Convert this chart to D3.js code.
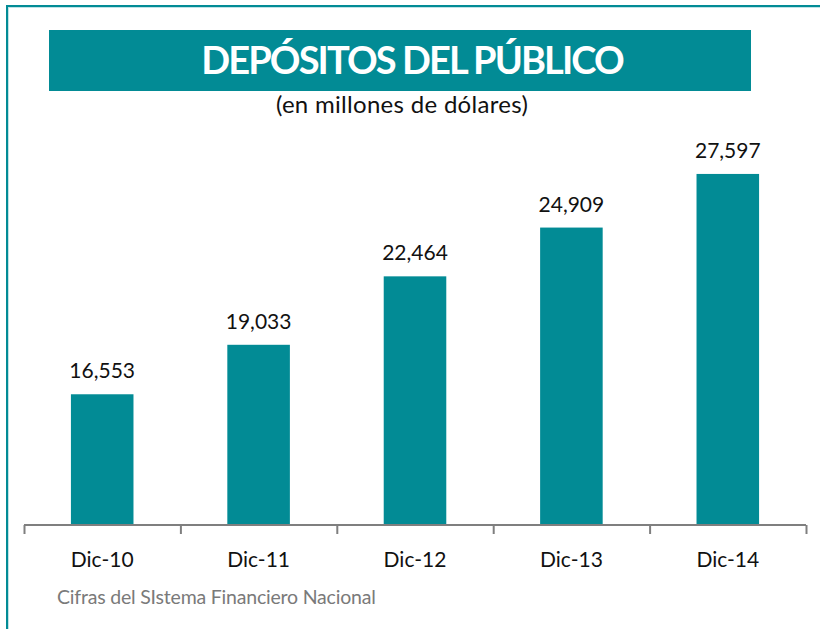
<!DOCTYPE html>
<html>
<head>
<meta charset="utf-8">
<script src="https://cdn.jsdelivr.net/npm/d3@7"></script>
<style>
  body { margin: 0; background: #fff; }
  svg { display: block; }
</style>
</head>
<body>
<svg id="chart" width="820" height="629"></svg>
<script>
// data
var categories = ["Dic-10", "Dic-11", "Dic-12", "Dic-13", "Dic-14"];
var deposits = [16553, 19033, 22464, 24909, 27597];
var yDomain = [10000, 30000];

var teal = "#028b95";
var font = "Lato, 'Open Sans', sans-serif";

var svg = d3.select("#chart");

// frame lines (top and left)
svg.append("rect").attr("x", 6).attr("y", 5).attr("width", 814).attr("height", 2).attr("fill", teal);
svg.append("rect").attr("x", 6).attr("y", 5).attr("width", 2).attr("height", 624).attr("fill", teal);
svg.append("rect").attr("x", 8).attr("y", 7).attr("width", 812).attr("height", 1).attr("fill", "#bfe3e6");
svg.append("rect").attr("x", 8).attr("y", 7).attr("width", 1).attr("height", 622).attr("fill", "#bfe3e6");

// title box
svg.append("rect")
    .attr("x", 49).attr("y", 30)
    .attr("width", 702).attr("height", 61)
    .attr("fill", teal);
svg.append("text")
    .attr("x", 412).attr("y", 74)
    .attr("text-anchor", "middle")
    .attr("fill", "white")
    .attr("font-family", font)
    .attr("font-weight", "bold")
    .attr("font-size", 38)
    .attr("letter-spacing", -1.9)
    .text("DEPÓSITOS DEL PÚBLICO");
svg.append("text")
    .attr("x", 402).attr("y", 113)
    .attr("text-anchor", "middle")
    .attr("fill", "#111")
    .attr("font-family", font)
    .attr("font-size", 24)
    .attr("letter-spacing", 0.3)
    .text("(en millones de dólares)");

var left = 24, right = 806, baseline = 525;

var x = d3.scaleBand()
    .domain(categories)
    .range([left, right])
    .paddingInner(0.6)
    .paddingOuter(0.3);

var y = d3.scaleLinear()
    .domain(yDomain)
    .range([baseline, baseline - 20000 * 0.01995]);

svg.selectAll(".bar")
    .data(deposits)
    .enter()
    .append("rect")
    .attr("class", "bar")
    .attr("x", function(d, i){ return x(categories[i]); })
    .attr("y", function(d){ return y(d); })
    .attr("width", x.bandwidth())
    .attr("height", function(d){ return baseline - y(d); })
    .attr("fill", teal);

svg.selectAll(".valueLabel")
    .data(deposits)
    .enter()
    .append("text")
    .attr("class", "valueLabel")
    .attr("x", function(d, i){ return x(categories[i]) + x.bandwidth() / 2; })
    .attr("y", function(d){ return y(d) - 16; })
    .attr("text-anchor", "middle")
    .attr("fill", "#111")
    .attr("font-family", font)
    .attr("font-size", 21)
    .text(function(d){ return d3.format(",")(d); });

// x axis with category boundaries as ticks
var xEdges = d3.scalePoint()
    .domain(d3.range(categories.length + 1))
    .range([left, right]);

var axis = svg.append("g")
    .attr("transform", "translate(0," + baseline + ")")
    .call(d3.axisBottom(xEdges).tickSize(9).tickFormat(""));
axis.select(".domain").attr("stroke", "#7f7f7f").attr("stroke-width", 2)
    .attr("d", "M" + left + ",0H" + right);
axis.selectAll(".tick line").attr("stroke", "#7f7f7f").attr("stroke-width", 2);

svg.selectAll(".catLabel")
    .data(categories)
    .enter()
    .append("text")
    .attr("class", "catLabel")
    .attr("x", function(d){ return x(d) + x.bandwidth() / 2; })
    .attr("y", 567)
    .attr("text-anchor", "middle")
    .attr("fill", "#111")
    .attr("font-family", font)
    .attr("font-size", 21)
    .text(function(d){ return d; });

svg.append("text")
    .attr("x", 57).attr("y", 604)
    .attr("fill", "#7a7a7a")
    .attr("font-family", font)
    .attr("font-size", 19.5)
    .attr("letter-spacing", -0.2)
    .text("Cifras del SIstema Financiero Nacional");
</script>
</body>
</html>
